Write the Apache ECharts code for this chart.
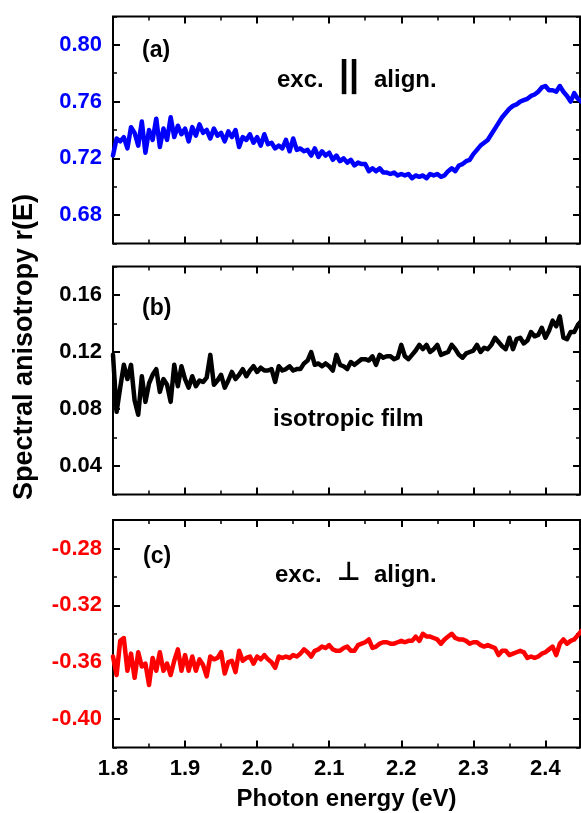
<!DOCTYPE html>
<html><head><meta charset="utf-8">
<script src="https://cdn.jsdelivr.net/npm/echarts@6/dist/echarts.min.js"></script>
<style>html,body{margin:0;padding:0;background:#fff}#c{width:581px;height:813px}</style>
</head><body><div id="c"></div>
<script>
const energy = [
1.800,1.805,1.810,1.815,1.820,1.825,1.830,1.835,1.840,1.845,
1.850,1.855,1.860,1.865,1.870,1.875,1.880,1.885,1.890,1.895,
1.900,1.905,1.910,1.915,1.920,1.925,1.930,1.935,1.940,1.945,
1.950,1.955,1.960,1.965,1.970,1.975,1.980,1.985,1.990,1.995,
2.000,2.005,2.010,2.015,2.020,2.025,2.030,2.035,2.040,2.045,
2.050,2.055,2.060,2.065,2.070,2.075,2.080,2.085,2.090,2.095,
2.100,2.105,2.110,2.115,2.120,2.125,2.130,2.135,2.140,2.145,
2.150,2.155,2.160,2.165,2.170,2.175,2.180,2.185,2.190,2.195,
2.200,2.205,2.210,2.215,2.220,2.225,2.230,2.235,2.240,2.245,
2.250,2.255,2.260,2.265,2.270,2.275,2.280,2.285,2.290,2.295,
2.300,2.305,2.310,2.315,2.320,2.325,2.330,2.335,2.340,2.345,
2.350,2.355,2.360,2.365,2.370,2.375,2.380,2.385,2.390,2.395,
2.400,2.405,2.410,2.415,2.420,2.425,2.430,2.435,2.440,2.445,
2.450];

// (a) excitation parallel to alignment
const anisoParallel = [
0.722,0.734,0.732,0.735,0.727,0.742,0.738,0.729,0.746,0.724,
0.740,0.733,0.748,0.728,0.741,0.733,0.749,0.735,0.743,0.737,
0.741,0.732,0.742,0.736,0.744,0.738,0.740,0.734,0.741,0.736,
0.738,0.732,0.739,0.735,0.740,0.728,0.735,0.733,0.737,0.731,
0.735,0.729,0.737,0.730,0.731,0.727,0.729,0.727,0.733,0.725,
0.734,0.726,0.727,0.725,0.726,0.722,0.727,0.721,0.725,0.722,
0.724,0.719,0.722,0.718,0.720,0.717,0.719,0.715,0.717,0.716,
0.716,0.711,0.713,0.711,0.713,0.710,0.710,0.709,0.710,0.708,
0.709,0.708,0.709,0.706,0.708,0.707,0.708,0.706,0.709,0.708,
0.709,0.707,0.708,0.711,0.713,0.711,0.715,0.716,0.718,0.719,
0.723,0.726,0.729,0.731,0.733,0.737,0.741,0.745,0.749,0.752,
0.755,0.757,0.758,0.760,0.761,0.762,0.764,0.765,0.767,0.770,
0.771,0.768,0.768,0.767,0.771,0.767,0.764,0.760,0.766,0.762,
0.760];

// (b) isotropic film
const anisoIsotropic = [
0.118,0.078,0.095,0.111,0.101,0.111,0.086,0.076,0.103,0.085,
0.098,0.104,0.108,0.092,0.101,0.097,0.085,0.111,0.096,0.110,
0.101,0.095,0.103,0.096,0.100,0.099,0.102,0.118,0.097,0.100,
0.104,0.095,0.100,0.106,0.101,0.104,0.108,0.103,0.107,0.110,
0.106,0.109,0.107,0.107,0.108,0.099,0.110,0.107,0.108,0.110,
0.107,0.108,0.108,0.112,0.114,0.120,0.111,0.112,0.110,0.112,
0.110,0.107,0.118,0.111,0.110,0.108,0.113,0.111,0.113,0.115,
0.115,0.114,0.117,0.111,0.118,0.116,0.117,0.117,0.115,0.116,
0.125,0.117,0.115,0.118,0.121,0.125,0.122,0.125,0.120,0.122,
0.125,0.118,0.119,0.120,0.125,0.122,0.118,0.116,0.119,0.120,
0.121,0.125,0.120,0.123,0.122,0.125,0.130,0.127,0.124,0.122,
0.130,0.122,0.129,0.130,0.126,0.128,0.134,0.131,0.132,0.137,
0.130,0.135,0.142,0.138,0.145,0.130,0.129,0.134,0.134,0.139,
0.142];

// (c) excitation perpendicular to alignment
const anisoPerpendicular = [
-0.356,-0.369,-0.345,-0.343,-0.366,-0.354,-0.371,-0.353,-0.363,-0.361,
-0.376,-0.357,-0.366,-0.353,-0.366,-0.361,-0.369,-0.359,-0.351,-0.366,
-0.355,-0.366,-0.356,-0.366,-0.358,-0.362,-0.370,-0.356,-0.358,-0.357,
-0.353,-0.368,-0.360,-0.359,-0.367,-0.352,-0.359,-0.357,-0.356,-0.361,
-0.356,-0.358,-0.355,-0.358,-0.360,-0.364,-0.356,-0.357,-0.356,-0.357,
-0.355,-0.356,-0.354,-0.351,-0.353,-0.356,-0.352,-0.351,-0.349,-0.350,
-0.348,-0.351,-0.352,-0.352,-0.350,-0.349,-0.352,-0.352,-0.348,-0.347,
-0.346,-0.344,-0.350,-0.349,-0.347,-0.346,-0.346,-0.347,-0.347,-0.346,
-0.345,-0.346,-0.345,-0.345,-0.342,-0.345,-0.340,-0.342,-0.342,-0.343,
-0.344,-0.347,-0.344,-0.342,-0.340,-0.343,-0.344,-0.344,-0.345,-0.347,
-0.346,-0.346,-0.348,-0.349,-0.348,-0.349,-0.350,-0.355,-0.352,-0.352,
-0.355,-0.354,-0.353,-0.352,-0.353,-0.357,-0.356,-0.357,-0.356,-0.354,
-0.353,-0.351,-0.349,-0.355,-0.347,-0.344,-0.347,-0.345,-0.344,-0.341,
-0.338];

const xTickLabels = [1.8, 1.9, 2.0, 2.1, 2.2, 2.3, 2.4];
const yRanges = [[0.66, 0.82], [0.02, 0.18], [-0.42, -0.26]];
const yTickLabels = [
  [0.68, 0.72, 0.76, 0.80],
  [0.04, 0.08, 0.12, 0.16],
  [-0.40, -0.36, -0.32, -0.28]
];
const panelLabels = ['(a)', '(b)', '(c)'];
const seriesNames = ['exc. || align.', 'isotropic film', 'exc. ⊥ align.'];

const colors = ['#0000ff', '#000000', '#ff0000'];
const seriesData = [anisoParallel, anisoIsotropic, anisoPerpendicular];
const FONT = "'Liberation Sans', Arial, sans-serif";
const grids = [
  {left: 113, right: 1, top: 16.5, height: 227},
  {left: 113, right: 1, top: 266.5, height: 228},
  {left: 113, right: 1, top: 520, height: 227.5}
];
const XMIN = 1.8, XMAX = 2.448;

const xAxes = [], yAxes = [], series = [];
grids.forEach((g, i) => {
  const base = {
    type: 'value', gridIndex: i, min: XMIN, max: XMAX,
    axisLine: {show: false}, splitLine: {show: false},
    axisLabel: {show: false}
  };
  ['bottom', 'top'].forEach(pos => {
    const major = Object.assign({}, base, {
      position: pos, interval: 0.1,
      axisTick: {show: true, inside: true, length: 7, lineStyle: {color: '#000', width: 2}}
    });
    if (pos === 'bottom' && i === 2) {
      major.axisLabel = {
        show: true, showMaxLabel: false, margin: 10,
        color: '#000', fontFamily: FONT, fontWeight: 'bold', fontSize: 22,
        formatter: v => (Math.abs(v - Math.round(v * 10) / 10) < 1e-6 && v < 2.445) ? v.toFixed(1) : ''
      };
      major.name = 'Photon energy (eV)';
      major.nameLocation = 'middle';
      major.nameGap = 40;
      major.nameTextStyle = {color: '#000', fontFamily: FONT, fontWeight: 'bold', fontSize: 24};
    }
    const minor = Object.assign({}, base, {
      position: pos, interval: 0.05,
      axisTick: {show: true, inside: true, length: 4, lineStyle: {color: '#000', width: 1.5}}
    });
    xAxes.push(major, minor);
  });
  const [ymin, ymax] = yRanges[i];
  const ybase = {
    type: 'value', gridIndex: i, min: ymin, max: ymax, interval: 0.02,
    axisLine: {show: false}, splitLine: {show: false}, axisLabel: {show: false}
  };
  ['left', 'right'].forEach(pos => {
    const major = Object.assign({}, ybase, {
      position: pos,
      axisTick: {show: true, inside: true, length: 7, customValues: yTickLabels[i],
                 lineStyle: {color: '#000', width: 2}}
    });
    if (pos === 'left') {
      major.axisLabel = {
        show: true, margin: 11, customValues: yTickLabels[i],
        color: colors[i], fontFamily: FONT, fontWeight: 'bold', fontSize: 22,
        formatter: v => (Math.abs(Math.round(v / 0.02)) % 2 === 0) ? v.toFixed(2) : ''
      };
    }
    const minor = Object.assign({}, ybase, {
      position: pos,
      axisTick: {show: true, inside: true, length: 4, lineStyle: {color: '#000', width: 1.5}}
    });
    yAxes.push(major, minor);
  });
  series.push({
    name: seriesNames[i], type: 'line', xAxisIndex: i * 4, yAxisIndex: i * 4,
    data: energy.map((e, k) => [e, seriesData[i][k]]),
    showSymbol: false, symbol: 'none', clip: true,
    lineStyle: {color: colors[i], width: 4.5, join: 'round', cap: 'round'},
    itemStyle: {color: colors[i]}, animation: false
  });
});

function txt(text, x, y, size, opts) {
  return Object.assign({
    type: 'text', x: x, y: y, silent: true,
    style: {text: text, fill: '#000', font: 'bold ' + size + 'px ' + FONT,
            textAlign: 'left', textVerticalAlign: 'middle', align: 'left', verticalAlign: 'middle'}
  }, opts || {});
}

const chart = echarts.init(document.getElementById('c'), null, {renderer: 'canvas'});
chart.setOption({
  animation: false,
  backgroundColor: '#fff',
  grid: grids.map(g => Object.assign({show: true, borderColor: '#000', borderWidth: 2,
                                      backgroundColor: 'transparent'}, g)),
  xAxis: xAxes,
  yAxis: yAxes,
  series: series,
  graphic: [
    txt(panelLabels[0], 142, 51, 23),
    txt('exc.', 277, 80, 24),
    txt('||', 339, 76, 36),
    txt('align.', 374, 80, 24),
    txt(panelLabels[1], 142, 309, 23),
    txt('isotropic film', 273, 419, 24),
    txt(panelLabels[2], 143, 557, 23),
    txt('exc.', 275, 575, 24),
    {type: 'text', x: 337, y: 573, silent: true,
     style: {text: '⊥', fill: '#000', font: 'bold 26px "DejaVu Sans", sans-serif',
             textAlign: 'left', textVerticalAlign: 'middle', align: 'left', verticalAlign: 'middle'}},
    txt('align.', 374, 575, 24),
    {type: 'text', x: 25, y: 347, rotation: Math.PI / 2, silent: true,
     style: {text: 'Spectral anisotropy r(E)', fill: '#000', font: 'bold 27px ' + FONT,
             textAlign: 'center', textVerticalAlign: 'middle', align: 'center', verticalAlign: 'middle'}}
  ]
});
</script></body></html>
